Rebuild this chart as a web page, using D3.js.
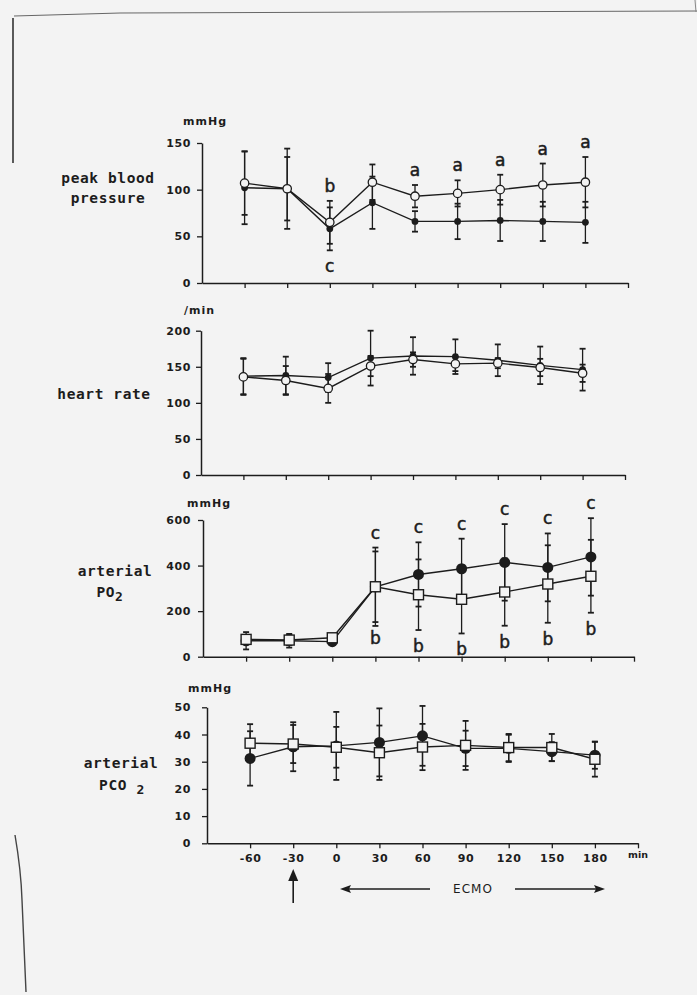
<!DOCTYPE html>
<html>
<head>
<meta charset="utf-8">
<script src="https://cdn.jsdelivr.net/npm/d3@7"></script>
<style>
  html, body { margin: 0; padding: 0; background: #f3f3f3; }
  svg { display: block; }
</style>
</head>
<body>
<script>
// ---------------- DATA ----------------
const times = [-60, -30, 0, 30, 60, 90, 120, 150, 180];
const xTickLabels = ["-60", "-30", "0", "30", "60", "90", "120", "150", "180"];

// peak blood pressure (mmHg)
const bpOpen = [107, 101, 65, 108, 93, 96, 100, 105, 108];
const bpOpenSD = [34, 34, 23, 19, 12, 14, 16, 23, 27];
const bpFilled = [102, 101, 58, 86, 66, 66, 67, 66, 65];
const bpFilledSD = [39, 43, 23, 28, 11, 19, 22, 21, 22];
const bpTicks = [0, 50, 100, 150];
const bpLettersOpenAbove = ["", "", "b", "", "a", "a", "a", "a", "a"];
const bpLettersFilledBelow = ["", "", "c", "", "", "", "", "", ""];

// heart rate (/min)
const hrOpen = [136, 131, 120, 151, 160, 154, 155, 149, 141];
const hrOpenSD = [25, 20, 20, 14, 10, 10, 7, 12, 12];
const hrFilled = [137, 138, 135, 162, 165, 164, 159, 152, 146];
const hrFilledSD = [25, 26, 20, 38, 26, 24, 22, 26, 29];
const hrTicks = [0, 50, 100, 150, 200];

// arterial PO2 (mmHg)
const po2Open = [76, 73, 83, 307, 272, 252, 284, 319, 353];
const po2OpenSD = [15, 22, 12, 155, 155, 150, 148, 170, 160];
const po2Filled = [70, 70, 66, 307, 361, 386, 414, 392, 438];
const po2FilledSD = [38, 30, 8, 172, 141, 132, 168, 149, 170];
const po2Ticks = [0, 200, 400, 600];
const po2LettersFilledAbove = ["", "", "", "c", "c", "c", "c", "c", "c"];
const po2LettersOpenBelow = ["", "", "", "b", "b", "b", "b", "b", "b"];

// arterial PCO2 (mmHg)
const pco2Open = [36.8, 36.5, 35.3, 33.3, 35.4, 36.0, 35.2, 35.2, 30.9];
const pco2OpenSD = [7, 7, 7.5, 10, 8.5, 9, 5, 5, 6.4];
const pco2Filled = [31.2, 35.5, 35.8, 37.1, 39.5, 34.9, 34.9, 33.7, 32.4];
const pco2FilledSD = [10, 9, 12.5, 12.5, 11, 6.5, 5, 3.5, 5];
const pco2Ticks = [0, 10, 20, 30, 40, 50];

// ---------------- DRAWING ----------------
const W = 697, H = 995;
const INK = "#1c1c1c";
const svg = d3.select("body").append("svg").attr("width", W).attr("height", H);

// scan edge marks
svg.append("path").attr("d", "M14,16 L120,13 L697,11").attr("fill", "none").attr("stroke", "#666").attr("stroke-width", 1);
svg.append("path").attr("d", "M13,18 L13,163").attr("fill", "none").attr("stroke", "#333").attr("stroke-width", 1.6);
svg.append("path").attr("d", "M15,835 Q21,870 22,900 L26,992").attr("fill", "none").attr("stroke", "#444").attr("stroke-width", 1.4);
svg.append("path").attr("d", "M695,0 L696,12").attr("fill", "none").attr("stroke", "#888").attr("stroke-width", 1);

const panels = [
  { x0: 202, x1: 628, y0: 283, y1: 143, max: 150, ticks: bpTicks, pad: 6,
    open: bpOpen, openSD: bpOpenSD, filled: bpFilled, filledSD: bpFilledSD,
    openShape: "circle", rOpen: 4.2, rFilled: 3.4,
    unit: "mmHg", unitX: 183, unitY: 125,
    labels: [{t: "peak blood", x: 108, y: 183}, {t: "pressure", x: 108, y: 203}],
    letters: [{arr: bpLettersOpenAbove, s: "open", pos: "above"}, {arr: bpLettersFilledBelow, s: "filled", pos: "below"}] },
  { x0: 201, x1: 625, y0: 475, y1: 330.7, max: 200, ticks: hrTicks, pad: 5,
    open: hrOpen, openSD: hrOpenSD, filled: hrFilled, filledSD: hrFilledSD,
    openShape: "circle", rOpen: 4.2, rFilled: 3.4,
    unit: "/min", unitX: 184, unitY: 314,
    labels: [{t: "heart rate", x: 104, y: 399}],
    letters: [] },
  { x0: 203, x1: 634, y0: 656.7, y1: 520, max: 600, ticks: po2Ticks, pad: 7,
    open: po2Open, openSD: po2OpenSD, filled: po2Filled, filledSD: po2FilledSD,
    openShape: "square", rOpen: 5, rFilled: 5.5,
    unit: "mmHg", unitX: 187, unitY: 507,
    labels: [{t: "arterial", x: 115, y: 576}, {t: "PO", sub: "2", x: 110, y: 597}],
    letters: [{arr: po2LettersFilledAbove, s: "filled", pos: "above"}, {arr: po2LettersOpenBelow, s: "open", pos: "below"}] },
  { x0: 207, x1: 638, y0: 843.3, y1: 707.3, max: 50, ticks: pco2Ticks, pad: 11,
    open: pco2Open, openSD: pco2OpenSD, filled: pco2Filled, filledSD: pco2FilledSD,
    openShape: "square", rOpen: 5, rFilled: 5.5,
    unit: "mmHg", unitX: 188, unitY: 692,
    labels: [{t: "arterial", x: 121, y: 768}, {t: "PCO ", sub: "2", x: 122, y: 790}],
    letters: [], bottom: true }
];

panels.forEach(p => {
  const x = d3.scaleLinear().domain([-90, 210]).range([p.x0, p.x1]);
  const y = d3.scaleLinear().domain([0, p.max]).range([p.y0, p.y1]);
  const g = svg.append("g");

  // axes
  const yAxis = d3.axisLeft(y).tickValues(p.ticks).tickSize(5).tickSizeOuter(0).tickPadding(p.pad);
  const gy = g.append("g").attr("transform", `translate(${p.x0},0)`).call(yAxis);
  const xAxis = d3.axisBottom(x).tickValues(times.concat([210])).tickSize(5).tickSizeOuter(0).tickPadding(6)
    .tickFormat((d) => {
      if (!p.bottom) return "";
      const i = times.indexOf(d);
      return i >= 0 ? xTickLabels[i] : "";
    });
  const gx = g.append("g").attr("transform", `translate(0,${p.y0})`).call(xAxis);
  [gx, gy].forEach(a => {
    a.select(".domain").attr("stroke", INK).attr("stroke-width", 1.5);
    a.selectAll(".tick line").attr("stroke", INK).attr("stroke-width", 1.3);
    a.selectAll(".tick text").attr("fill", INK).style("font-family", "DejaVu Sans").style("font-weight", "bold")
      .style("font-size", "11px").style("letter-spacing", "0.6px");
  });

  // unit label
  g.append("text").attr("x", p.unitX).attr("y", p.unitY).text(p.unit)
    .attr("fill", INK).style("font-family", "DejaVu Sans").style("font-weight", "bold").style("font-size", "11px").style("letter-spacing", "1px");

  // row labels
  p.labels.forEach(l => {
    const t = g.append("text").attr("x", l.x).attr("y", l.y).attr("text-anchor", "middle")
      .attr("fill", INK).style("font-family", "DejaVu Sans Mono").style("font-weight", "bold").style("font-size", "14.5px").style("letter-spacing", "0.6px");
    t.append("tspan").text(l.t);
    if (l.sub) t.append("tspan").attr("dy", 4).style("font-size", "13px").text(l.sub);
  });

  const series = [
    { key: "open", v: p.open, sd: p.openSD },
    { key: "filled", v: p.filled, sd: p.filledSD }
  ];

  // error bars
  series.forEach(s => {
    s.v.forEach((v, i) => {
      const cx = x(times[i]);
      const lo = y(v - s.sd[i]), hi = y(v + s.sd[i]);
      g.append("line").attr("x1", cx).attr("x2", cx).attr("y1", lo).attr("y2", hi).attr("stroke", INK).attr("stroke-width", 1.3);
      [lo, hi].forEach(yy => g.append("line").attr("x1", cx - 3).attr("x2", cx + 3).attr("y1", yy).attr("y2", yy).attr("stroke", INK).attr("stroke-width", 1.8));
    });
  });

  // lines
  const line = d3.line().x((d, i) => x(times[i])).y(d => y(d));
  series.forEach(s => {
    g.append("path").datum(s.v).attr("d", line).attr("fill", "none").attr("stroke", INK).attr("stroke-width", 1.4);
  });

  // markers: filled
  g.selectAll(null).data(p.filled).enter().append("circle")
    .attr("cx", (d, i) => x(times[i])).attr("cy", d => y(d)).attr("r", p.rFilled).attr("fill", INK);
  // markers: open
  if (p.openShape === "circle") {
    g.selectAll(null).data(p.open).enter().append("circle")
      .attr("cx", (d, i) => x(times[i])).attr("cy", d => y(d)).attr("r", p.rOpen)
      .attr("fill", "#f3f3f3").attr("stroke", INK).attr("stroke-width", 1.3);
  } else {
    g.selectAll(null).data(p.open).enter().append("rect")
      .attr("x", (d, i) => x(times[i]) - p.rOpen).attr("y", d => y(d) - p.rOpen)
      .attr("width", 2 * p.rOpen).attr("height", 2 * p.rOpen)
      .attr("fill", "#f3f3f3").attr("stroke", INK).attr("stroke-width", 1.4);
  }

  // significance letters
  p.letters.forEach(L => {
    const s = series.find(q => q.key === L.s);
    L.arr.forEach((t, i) => {
      if (!t) return;
      const yy = L.pos === "above" ? y(s.v[i] + s.sd[i]) - 14 : y(s.v[i] - s.sd[i]) + 17;
      g.append("text").attr("x", x(times[i])).attr("y", yy).attr("text-anchor", "middle").attr("dominant-baseline", "middle")
        .attr("fill", INK).attr("stroke", INK).attr("stroke-width", 0.5)
        .style("font-family", "DejaVu Sans").style("font-size", "17px").text(t);
    });
  });

  if (p.bottom) {
    g.append("text").attr("x", 628).attr("y", 858).text("min").attr("fill", INK)
      .style("font-family", "DejaVu Sans").style("font-weight", "bold").style("font-size", "9.5px");
    // start arrow at -30
    const ax = x(-30);
    g.append("line").attr("x1", ax).attr("x2", ax).attr("y1", 903).attr("y2", 878).attr("stroke", INK).attr("stroke-width", 1.6);
    g.append("path").attr("d", `M${ax},869 L${ax - 5},881 L${ax + 5},881 Z`).attr("fill", INK);
    // ECMO arrows
    g.append("line").attr("x1", 346).attr("x2", 430).attr("y1", 889).attr("y2", 889).attr("stroke", INK).attr("stroke-width", 1.4);
    g.append("path").attr("d", "M340,889 L351,885 L349,889 L351,893 Z").attr("fill", INK);
    g.append("line").attr("x1", 515).attr("x2", 599).attr("y1", 889).attr("y2", 889).attr("stroke", INK).attr("stroke-width", 1.4);
    g.append("path").attr("d", "M605,889 L594,885 L596,889 L594,893 Z").attr("fill", INK);
    g.append("text").attr("x", 473).attr("y", 893).attr("text-anchor", "middle").text("ECMO").attr("fill", INK)
      .style("font-family", "DejaVu Sans").style("font-size", "12px").style("letter-spacing", "1px");
  }
});
</script>
</body>
</html>
